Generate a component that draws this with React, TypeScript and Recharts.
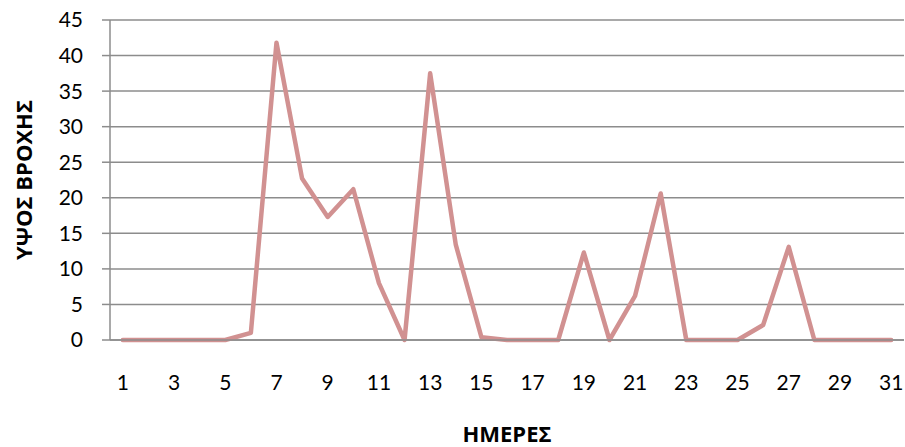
import { LineChart, Line, XAxis, YAxis, CartesianGrid } from "recharts";

const days = [
  1, 2, 3, 4, 5, 6, 7, 8, 9, 10, 11, 12, 13, 14, 15, 16, 17, 18, 19, 20, 21, 22, 23, 24, 25, 26, 27, 28, 29, 30, 31,
];
const rain = [
  0, 0, 0, 0, 0, 1, 41.8, 22.7, 17.3, 21.2, 8, 0, 37.5, 13.4, 0.4, 0, 0, 0, 12.3, 0, 6.2, 20.6, 0, 0, 0, 2.1, 13.1, 0,
  0, 0, 0,
];
const yTicks = [0, 5, 10, 15, 20, 25, 30, 35, 40, 45];

const data = days.map((d, i) => ({ day: d, value: rain[i] }));

const tickFont = { fontFamily: "Lato, 'Open Sans', sans-serif", fontSize: 21, fill: "#000" };
const titleStyle = { fontFamily: "'Open Sans', sans-serif", fontSize: 22, fontWeight: 700, fill: "#000" };

export default function App() {
  return (
    <div style={{ position: "absolute", left: 0, top: 0, background: "#fff" }}>
      <LineChart width={905} height={447} data={data} margin={{ top: 20, right: 1, left: 0, bottom: 0 }}>
        <CartesianGrid vertical={false} stroke="#8c8c8c" strokeWidth={1.5} />
        <XAxis
          dataKey="day"
          interval={1}
          padding={{ left: 12.8, right: 12.8 }}
          height={107}
          tickSize={0}
          tickMargin={35}
          tick={tickFont}
          stroke="#8c8c8c"
          strokeWidth={1.5}
          label={{ value: "ΗΜΕΡΕΣ", position: "insideBottom", offset: 5, style: titleStyle }}
        />
        <YAxis
          width={110}
          domain={[0, 45]}
          ticks={yTicks}
          tickSize={8}
          tickMargin={19}
          tick={tickFont}
          stroke="#8c8c8c"
          strokeWidth={1.5}
          label={{
            value: "ΥΨΟΣ ΒΡΟΧΗΣ",
            angle: -90,
            position: "insideLeft",
            offset: 24,
            style: { ...titleStyle, textAnchor: "middle" },
          }}
        />
        <Line
          dataKey="value"
          type="linear"
          stroke="#d19191"
          strokeWidth={4.5}
          strokeLinejoin="round"
          strokeLinecap="round"
          dot={false}
          isAnimationActive={false}
        />
      </LineChart>
    </div>
  );
}
